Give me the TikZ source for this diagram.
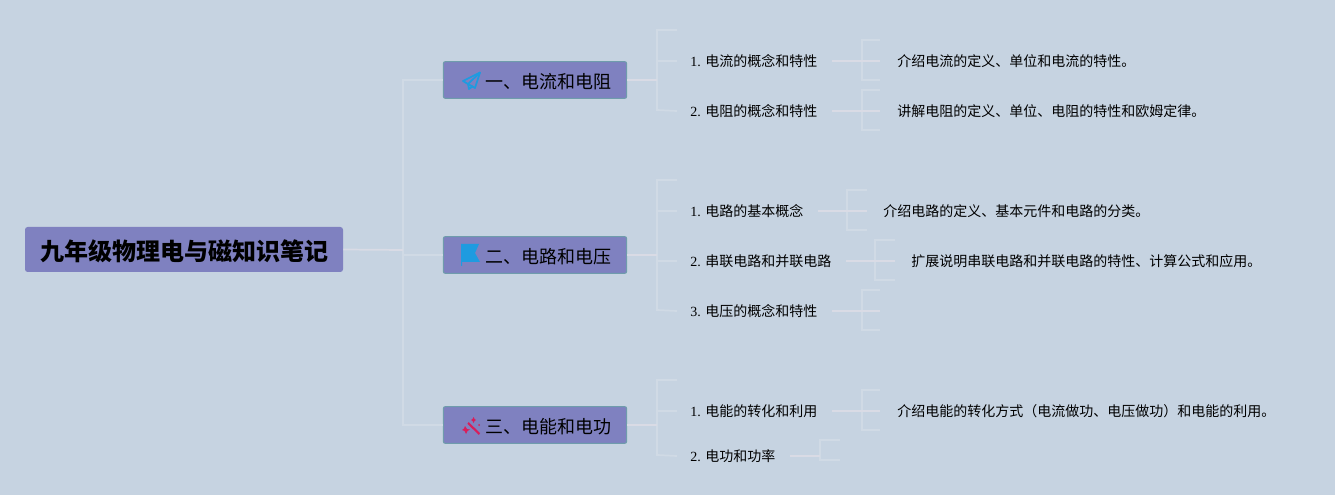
\documentclass[tikz,border=0pt]{standalone}
\usepackage{fontspec}
\setmainfont{Liberation Serif}
\newfontfamily\cjk{Noto Sans CJK SC}
\definecolor{bgc}{HTML}{C6D3E1}
\definecolor{boxc}{HTML}{7F81C0}
\definecolor{edgec}{HTML}{6F9CAC}
\definecolor{linea}{HTML}{D0DAE5}
\definecolor{lineb}{HTML}{D9DBE5}
\definecolor{bluec}{HTML}{1E9BE0}
\definecolor{pinkc}{HTML}{D81E5B}
\tikzset{
  rootbox/.style={fill=boxc,rounded corners=2pt,minimum width=238.5pt,minimum height=33.75pt,inner sep=0pt,
    text height=20pt,text depth=2.8pt,
    font=\cjk\bfseries\fontsize{18pt}{20pt}\selectfont,text=black},
  midbox/.style={fill=boxc,draw=edgec,line width=.8pt,rounded corners=1.5pt,minimum width=137.5pt,minimum height=27.5pt,inner sep=0pt,
    text height=15pt,text depth=2.6pt,
    font=\cjk\fontsize{13.5pt}{16pt}\selectfont,text=black},
  leaf/.style={anchor=west,inner ysep=0pt,inner xsep=9.75pt,font=\fontsize{10.5pt}{12pt}\selectfont,text=black},
  note/.style={anchor=west,inner sep=0pt,font=\cjk\fontsize{10.5pt}{12pt}\selectfont,text=black},
  trunk/.style={draw=linea,line width=1.3pt},
  link/.style={draw=lineb,line width=1.3pt},
}
\newcommand{\brk}[6]{% name of leaf, xv, ytop, ybot, xend, end of link
  \coordinate (#1t) at (#2,#3);
  \coordinate (#1b) at (#2,#4);
  \coordinate (#1a) at (#5,#3);
  \coordinate (#1c) at (#5,#4);
  \coordinate (#1x) at (#6,#3);
  \coordinate (#1e) at (#1.east -| #1x);
  \draw[trunk] (#1a) -- (#1t) -- (#1b) -- (#1c);
  \draw[link,shorten <=1pt] (#1.east) -- (#1e);
}
\begin{document}
\begin{tikzpicture}[x=.75pt,y=-.75pt]
\fill[bgc] (0,0) rectangle (1335,495);
\useasboundingbox (0,0) rectangle (1335,495);

% coordinates of the trunks
\coordinate (t0a) at (403,80);
\coordinate (t0b) at (403,425);
\coordinate (j0) at (403,250);
\coordinate (j0b) at (403,255);
\coordinate (t1a) at (677,30);
\coordinate (t1b) at (657,30);
\coordinate (t1c) at (657,110);
\coordinate (j1) at (657,80);
\coordinate (t2a) at (677,180);
\coordinate (t2b) at (657,180);
\coordinate (t2c) at (657,310);
\coordinate (j2) at (657,255);
\coordinate (t3a) at (677,380);
\coordinate (t3b) at (657,380);
\coordinate (t3c) at (657,455);
\coordinate (j3) at (657,425);

% main boxes
\node[rootbox] (root) at (184,249.5) {九年级物理电与磁知识笔记};
\node[midbox] (m1) at (535,80) {\hspace*{19.5pt}一、电流和电阻};
\node[midbox] (m2) at (535,255) {\hspace*{19.5pt}二、电路和电压};
\node[midbox] (m3) at (535,425) {\hspace*{19.5pt}三、电能和电功};

% leaves
\node[leaf] (a1) at (677,61) {1. {\cjk 电流的概念和特性}};
\node[leaf] (a2) at (677,111) {2. {\cjk 电阻的概念和特性}};
\node[leaf] (b1) at (677,211) {1. {\cjk 电路的基本概念}};
\node[leaf] (b2) at (677,261) {2. {\cjk 串联电路和并联电路}};
\node[leaf] (b3) at (677,311) {3. {\cjk 电压的概念和特性}};
\node[leaf] (c1) at (677,411) {1. {\cjk 电能的转化和利用}};
\node[leaf] (c2) at (677,456) {2. {\cjk 电功和功率}};

% notes
\node[note] (na1) at (897,61) {介绍电流的定义、单位和电流的特性。};
\node[note] (na2) at (897,111) {讲解电阻的定义、单位、电阻的特性和欧姆定律。};
\node[note] (nb1) at (883,211) {介绍电路的定义、基本元件和电路的分类。};
\node[note] (nb2) at (911,261) {扩展说明串联电路和并联电路的特性、计算公式和应用。};
\node[note] (nc1) at (897,411) {介绍电能的转化方式（电流做功、电压做功）和电能的利用。};

% root level
\draw[trunk] (m1.west) -- (t0a) -- (t0b) -- (m3.west);
\draw[trunk] (j0b) -- (m2.west);
\draw[link] (root.east) -- (j0);

% branch level
\draw[trunk] (t1a) -- (t1b) -- (t1c) -- (a2.west);
\draw[trunk] (j1 |- a1.west) -- (a1.west);
\draw[link] (m1.east) -- (j1);
\draw[trunk] (t2a) -- (t2b) -- (t2c) -- (b3.west);
\draw[trunk] (t2b |- b1.west) -- (b1.west);
\draw[trunk] (t2b |- b2.west) -- (b2.west);
\draw[link] (m2.east) -- (j2);
\draw[trunk] (t3a) -- (t3b) -- (t3c) -- (c2.west);
\draw[trunk] (t3b |- c1.west) -- (c1.west);
\draw[link] (m3.east) -- (j3);

% leaf brackets
\brk{a1}{862}{40}{80}{880}{880}
\brk{a2}{862}{90}{130}{880}{880}
\brk{b1}{847}{190}{230}{867}{867}
\brk{b2}{875}{240}{280}{895}{895}
\brk{b3}{862}{290}{330}{880}{880}
\brk{c1}{862}{390}{430}{880}{880}
\brk{c2}{820}{440}{460}{840}{820}

% icon: paper plane
\draw[bluec,line width=1.3pt,line join=round] (480,72.5) -- (463,81) -- (468,84) -- (475,88) -- cycle;
\draw[bluec,line width=1.3pt,line join=round] (480,72.5) -- (468,84) -- (469,89) -- (473,86);
% icon: flag
\fill[bluec] (461,244) -- (479,244) -- (475,253) -- (480,262) -- (462,262) -- (462,266) -- (461,266) -- cycle;
% icon: wand
\draw[pinkc,line width=1.6pt] (468,423) -- (479.5,434);
\fill[pinkc] (465,426) -- (467,429) -- (470,429.5) -- (467.5,431) -- (466,434) -- (464.5,431) -- (462,430) -- (464,428.5) -- cycle;
\fill[pinkc] (473.5,417) -- (474.5,419) -- (476,420) -- (474.5,421) -- (473.5,423) -- (472.5,421) -- (471,420) -- (472.5,419) -- cycle;
\fill[pinkc] (479,425) circle (1);
\end{tikzpicture}
\end{document}
